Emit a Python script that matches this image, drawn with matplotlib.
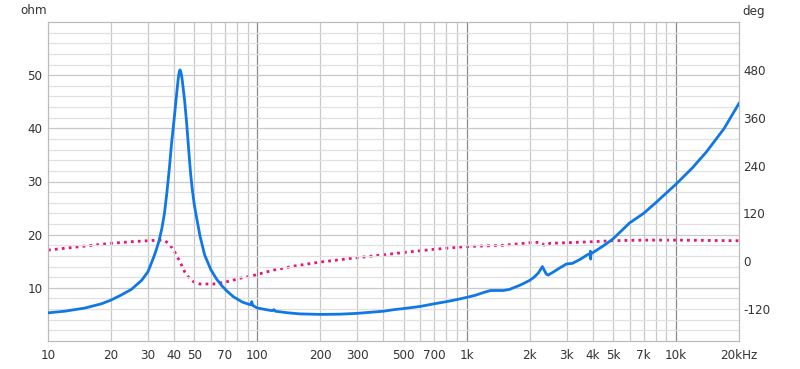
import numpy as np
import matplotlib.pyplot as plt
from matplotlib.ticker import FixedLocator, NullFormatter

plt.rcParams["axes.unicode_minus"] = False
plt.rcParams["font.family"] = ["DejaVu Sans"]
plt.rcParams["font.stretch"] = "condensed"

# =========================
# DATA
# =========================

imp_freq = [10, 12, 15, 18, 20, 22, 25, 28, 30, 31, 32, 33, 34, 35, 36, 37, 38,
            39, 40, 41, 41.8, 42.3, 42.7, 43.1, 43.6, 44.2, 45, 46, 47, 48, 49,
            50, 51.5, 53.2, 56, 60, 64, 68, 72, 77, 85, 93, 94, 95, 100, 110,
            118, 120, 122, 140, 160, 200, 250, 300, 400, 450, 500, 600, 700, 800,
            900, 1000, 1100, 1200, 1300, 1400, 1500, 1600, 1800, 2000, 2100, 2200,
            2300, 2400, 2450, 2600, 2800, 3000, 3200, 3500, 3800, 3880, 3900,
            3910, 3920, 4000, 4500, 5000, 6000, 7000, 8000, 10000, 12000, 14000,
            17000, 20000]
imp_ohm = [5.3, 5.6, 6.2, 7.0, 7.7, 8.5, 9.7, 11.4, 13.0, 14.4, 15.8, 17.3, 19.0,
           21.2, 24.0, 28.0, 32.5, 37.5, 41.5, 45.8, 49.0, 50.5, 51.0, 50.6, 49.6,
           47.7, 45.0, 40.8, 36.0, 31.5, 28.2, 25.6, 22.8, 19.8, 16.2, 13.4, 11.6,
           10.3, 9.3, 8.3, 7.3, 6.8, 7.4, 6.7, 6.2, 5.9, 5.7, 5.9, 5.6, 5.3, 5.1,
           5.0, 5.05, 5.2, 5.6, 5.9, 6.1, 6.5, 7.0, 7.4, 7.8, 8.2, 8.6, 9.1, 9.5,
           9.5, 9.5, 9.7, 10.5, 11.4, 12.0, 12.8, 14.0, 12.6, 12.4, 13.0, 13.8,
           14.5, 14.6, 15.4, 16.3, 16.3, 16.9, 15.4, 16.4, 16.6, 17.9, 19.2, 22.2,
           24.0, 26.0, 29.5, 32.6, 35.6, 40.0, 44.7]

ph_freq = [10, 15, 20, 25, 30, 34, 36, 37.6, 39.7, 41, 42.7, 45.2, 47.5, 49.5,
           53, 62, 72, 85, 94, 100, 120, 150, 200, 300, 400, 500, 700, 1000,
           1500, 2000, 2200, 2300, 2350, 2450, 2500, 3000, 4000, 5000, 7000,
           10000, 20000]
ph_deg = [28, 38, 45, 49, 51.5, 53, 52, 45, 30, 16, -1, -29, -43, -51, -57, -57,
          -51, -41, -37, -33, -22, -12, -2, 9, 16, 22, 30, 37, 40, 46.5, 47.5,
          44, 40, 42, 45, 46.5, 49, 51.5, 53, 53, 51.5]

x_ticks = [10, 20, 30, 40, 50, 70, 100, 200, 300, 500, 700, 1000, 2000, 3000,
           4000, 5000, 7000, 10000, 20000]
x_labels = ["10", "20", "30", "40", "50", "70", "100", "200", "300", "500", "700",
            "1k", "2k", "3k", "4k", "5k", "7k", "10k", "20kHz"]
ohm_ticks = [10, 20, 30, 40, 50]
deg_ticks = [-120, 0, 120, 240, 360, 480]

BLUE = "#0f78e6"
PINK = "#e8137a"
TXT = "#333333"
FS = 9.5

# =========================
# PLOT
# =========================

fig = plt.figure(figsize=(8, 3.69), dpi=100)
ax = fig.add_axes([48 / 800, 1 - 341 / 369, (739 - 48) / 800, (341 - 22) / 369])
ax2 = ax.twinx()

ax.set_xscale("log")
ax.set_xlim(10, 20000)
ax.set_ylim(0, 60)
ax2.set_ylim(-200, 600)

# grid
minor_x = [m * 10 ** d for d in range(1, 5) for m in range(2, 10) if m * 10 ** d < 20000]
for f in minor_x:
    ax.axvline(f, color="#c8c8c8", lw=0.9, zorder=0)
for f in [100, 1000, 10000]:
    ax.axvline(f, color="#8a8a8a", lw=0.9, zorder=0)
for v in np.arange(2, 60, 2):
    ax.axhline(v, color="#c8c8c8" if v % 10 == 0 else "#e0e0e0", lw=0.9, zorder=0)

ax.plot(imp_freq, imp_ohm, color=BLUE, lw=2, zorder=3, solid_joinstyle="round")
ax2.plot(ph_freq, ph_deg, color=PINK, lw=2, linestyle=(0, (1, 1.5)), zorder=2)
ax.set_zorder(ax2.get_zorder() + 1)
ax.patch.set_visible(False)

ax.xaxis.set_major_locator(FixedLocator(x_ticks))
ax.set_xticklabels(x_labels)
ax.xaxis.set_minor_formatter(NullFormatter())
ax.xaxis.set_minor_locator(FixedLocator([]))
ax.set_yticks(ohm_ticks)
ax2.set_yticks(deg_ticks)

for a in (ax, ax2):
    a.tick_params(length=0, labelsize=FS, colors=TXT)
    for s in a.spines.values():
        s.set_color("#bbbbbb")
ax.tick_params(axis="x", pad=6)
ax.tick_params(axis="y", pad=4)
ax2.tick_params(axis="y", pad=3)

fig.text(20 / 800, 1 - 11 / 369, "ohm", fontsize=FS, color=TXT, va="center")
fig.text(742 / 800, 1 - 11 / 369, "deg", fontsize=FS, color=TXT, va="center")

fig.savefig("out.png", dpi=100)
